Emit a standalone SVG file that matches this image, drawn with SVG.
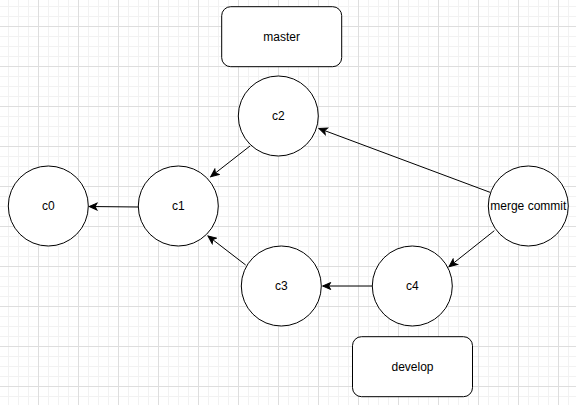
<svg xmlns="http://www.w3.org/2000/svg" width="576" height="405" viewBox="0 0 576 405">
<defs>
<pattern id="grid" x="38" y="26" width="40" height="40" patternUnits="userSpaceOnUse">
<rect width="40" height="40" fill="#ffffff"/>
<path d="M10.5,0V40M20.5,0V40M30.5,0V40M0,10.5H40M0,20.5H40M0,30.5H40" stroke="#f2f2f2" stroke-width="1" fill="none"/>
<path d="M0.5,0V40M0,0.5H40" stroke="#dedede" stroke-width="1" fill="none"/>
</pattern>
<marker id="arrow" markerUnits="userSpaceOnUse" markerWidth="10" markerHeight="9" refX="9" refY="4.5" orient="auto" viewBox="0 0 10 9">
<path d="M1,1 L9,4.5 L1,8 L3,4.5 Z" fill="#000" stroke="#000" stroke-width="1" stroke-linejoin="miter"/>
</marker>
<style>
.node{fill:#ffffff;stroke:#000000;stroke-width:1}
.lbl{font-family:"Liberation Sans",Arial,Helvetica,sans-serif;font-size:12px;fill:#000000;text-anchor:middle;dominant-baseline:central}
.edge{fill:none;stroke:#000000;stroke-width:1;marker-end:url(#arrow)}
</style>
</defs>
<rect width="576" height="405" fill="url(#grid)"/>
<g id="connectors">
<path class="edge" d="M138.3,207 L89,206.5"/>
<path class="edge" d="M250,146 L210.7,176.7"/>
<path class="edge" d="M245.7,265 L208,236"/>
<path class="edge" d="M372.3,286 L322.7,286"/>
<path class="edge" d="M490,192.3 L319,128.5"/>
<path class="edge" d="M494.3,230.7 L449,266.7"/>
</g>
<g id="master">
<rect class="node" x="221.7" y="6.7" width="120" height="60" rx="9" ry="9"/>
<text class="lbl" x="281.7" y="36.7">master</text>
</g>
<g id="develop">
<rect class="node" x="352.5" y="336.7" width="120" height="60" rx="9" ry="9"/>
<text class="lbl" x="412.5" y="366.7">develop</text>
</g>
<g id="c0">
<circle class="node" cx="48.3" cy="206" r="40"/>
<text class="lbl" x="48.3" y="206">c0</text>
</g>
<g id="c1">
<circle class="node" cx="178.3" cy="206" r="40"/>
<text class="lbl" x="178.3" y="206">c1</text>
</g>
<g id="c2">
<circle class="node" cx="278.3" cy="116" r="40"/>
<text class="lbl" x="278.3" y="116">c2</text>
</g>
<g id="c3">
<circle class="node" cx="281.3" cy="286" r="40"/>
<text class="lbl" x="281.3" y="286">c3</text>
</g>
<g id="c4">
<circle class="node" cx="412.3" cy="286" r="40"/>
<text class="lbl" x="412.3" y="286">c4</text>
</g>
<g id="merge-commit">
<circle class="node" cx="528.3" cy="206" r="40"/>
<text class="lbl" x="528.3" y="206">merge commit</text>
</g>
</svg>
